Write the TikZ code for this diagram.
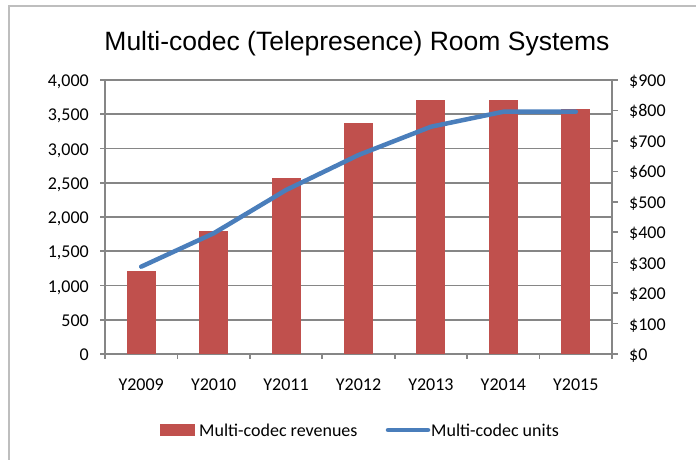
\documentclass[tikz,border=0pt]{standalone}
\usepackage{fontspec}
\setmainfont{Carlito}
\newfontfamily\titlefont{Liberation Sans}
\usepackage{tikz}
\usetikzlibrary{positioning}
\definecolor{barred}{RGB}{192,80,77}
\definecolor{lineblue}{RGB}{74,126,187}
\definecolor{gridgray}{RGB}{134,134,134}
\definecolor{framegray}{RGB}{190,190,190}

\begin{document}
\begin{tikzpicture}[
        x=1pt, y=-1pt,
        gridline/.style={draw=gridgray, line width=1.6pt},
        bar/.style={fill=barred, draw=none},
        units/.style={draw=lineblue, line width=4.5pt, line cap=round, line join=round},
        ticklabel/.style={font=\fontsize{18}{20}\selectfont, inner sep=0pt}
    ]
    \useasboundingbox (0,0) rectangle (696,460);

    % frame
    \draw[framegray, line width=2pt] (9,460) -- (9,6) -- (696,6);

    % title
    \node[font=\titlefont\fontsize{26.5}{30}\selectfont, anchor=base, inner sep=0pt] (title) at (357,51) {Multi-codec (Telepresence) Room Systems};

    % gridlines, left axis
    \foreach \k/\lab in {0/0,1/500,2/{1,000},3/{1,500},4/{2,000},5/{2,500},6/{3,000},7/{3,500},8/{4,000}} {
        \draw[gridline] (100,{354-\k*34.25}) -- (612,{354-\k*34.25});
        \node[ticklabel, anchor=base east] (l\k) at (89,{354-\k*34.25+6.5}) {\lab};
    }

    % right axis
    \foreach \k in {0,...,9} {
        \draw[gridline] (612,{354-\k*30.44}) -- (618,{354-\k*30.44});
        \node[ticklabel, anchor=base west] (r\k) at (629,{354-\k*30.44+6.5}) {\$\the\numexpr\k*100\relax};
    }
    \draw[gridline] (105,80) -- (105,359);
    \draw[gridline] (612,79) -- (612,354);

    % bars and categories
    \foreach \i/\v in {1/274,2/404,3/577,4/758,5/834,6/834,7/804} {
        \draw[gridline] ({105+\i*72.43},354) -- ({105+\i*72.43},359);
        \fill[bar] ({105+(\i-0.5)*72.43-14.5},354) rectangle ({105+(\i-0.5)*72.43+14.5},{354-\v*0.3044});
        \node[ticklabel, anchor=base] (c\i) at ({105+(\i-0.5)*72.43},390) {Y\the\numexpr2008+\i\relax};
    }

    % units line
    \foreach \i/\u in {1/1275,2/1762,3/2394,4/2905,5/3318,6/3537,7/3537} {
        \coordinate (u\i) at ({105+(\i-0.5)*72.43},{354-\u*0.0685});
    }
    \draw[units] (u1) -- (u2) -- (u3) -- (u4) -- (u5) -- (u6) -- (u7);

    % legend
    \fill[bar] (160,424) rectangle (195,436);
    \node[ticklabel, anchor=base west] (revtext) at (199,436) {Multi-codec revenues};
    \coordinate (keyleft) at (388,430);
    \coordinate (keyright) at (428,430);
    \draw[units] (keyleft) -- (keyright);
    \node[ticklabel, anchor=base west] (unittext) at (431,436) {Multi-codec units};

\end{tikzpicture}
\end{document}
